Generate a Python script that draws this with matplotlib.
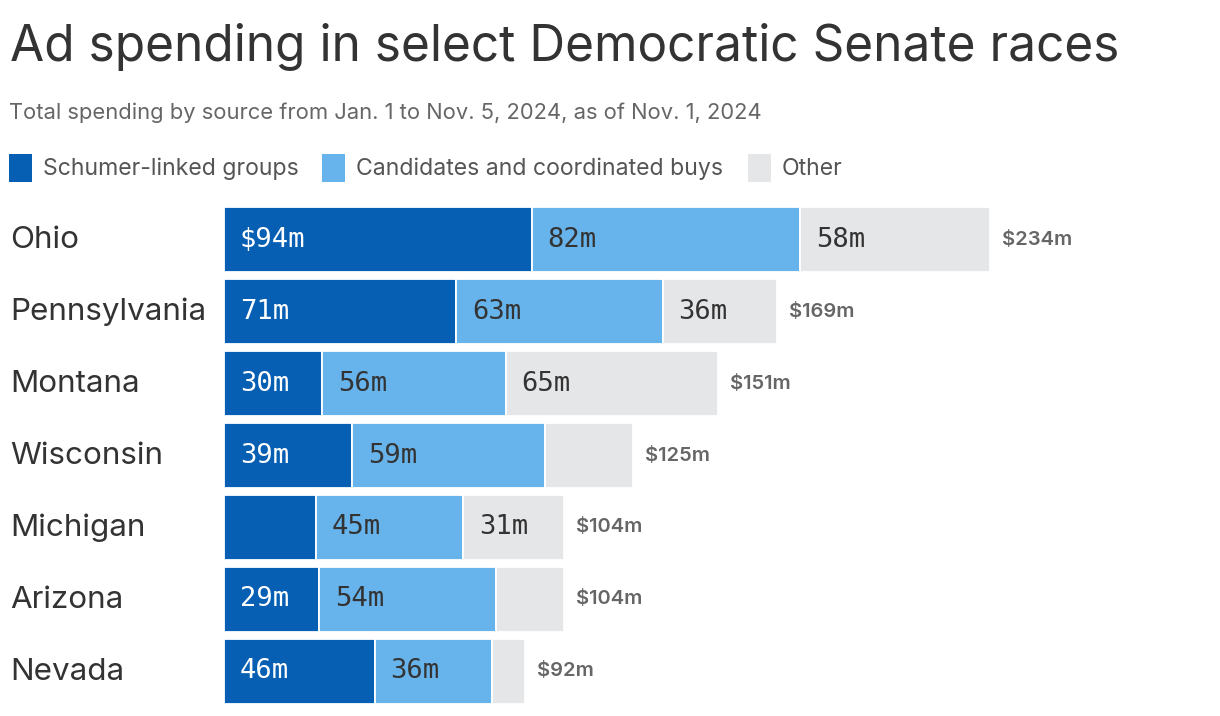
import numpy as np
import matplotlib
matplotlib.use("Agg")
from matplotlib import pyplot as plt
from matplotlib.patches import Rectangle

states = ["Ohio", "Pennsylvania", "Montana", "Wisconsin", "Michigan", "Arizona", "Nevada"]
schumer = [94, 71, 30, 39, 28, 29, 46]
candidates = [82, 63, 56, 59, 45, 54, 36]
other = [58, 35, 65, 27, 31, 21, 10]
other_labels = ["58m", "36m", "65m", "", "31m", "", ""]
schumer_labels = ["$94m", "71m", "30m", "39m", "", "29m", "46m"]
candidate_labels = ["82m", "63m", "56m", "59m", "45m", "54m", "36m"]
totals = ["$234m", "$169m", "$151m", "$125m", "$104m", "$104m", "$92m"]

series = ["Schumer-linked groups", "Candidates and coordinated buys", "Other"]
colors = ["#075fb3", "#67b3eb", "#e5e6e8"]
text_colors = ["white", "#333333", "#333333"]

W, H = 1220, 716
fig = plt.figure(figsize=(W / 100, H / 100), dpi=100)
ax = fig.add_axes([224 / W, (H - 707.5) / H, 982 / W, 504 / H])

y = np.arange(len(states))
vals = [np.array(schumer), np.array(candidates), np.array(other)]
labs = [schumer_labels, candidate_labels, other_labels]
left = np.zeros(len(states))
for v, c, tc, lab in zip(vals, colors, text_colors, labs):
    ax.barh(y, v, left=left, height=0.9, color=c, edgecolor="white", linewidth=1.3)
    for i in range(len(states)):
        if lab[i]:
            ax.annotate(lab[i], xy=(left[i], y[i]), xytext=(11.5, 0), textcoords="offset points",
                        ha="left", va="center", color=tc, fontsize=19.5, family="DejaVu Sans Mono")
    left = left + v

for i, t in enumerate(totals):
    ax.annotate(t, xy=(left[i], y[i]), xytext=(8.5, 0), textcoords="offset points",
                ha="left", va="center", color="#666666", fontsize=14.5, fontweight="semibold",
                family="Inter")
    ax.annotate(states[i], xy=(10, y[i]), xycoords=("figure pixels", "data"),
                ha="left", va="center", color="#333333", fontsize=22.6, family="Inter")

ax.set_xlim(0, 300)
ax.set_ylim(len(states) - 0.5, -0.5)
ax.axis("off")

fig.text(10 / W, 1 - 47 / H, "Ad spending in select Democratic Senate races", ha="left", va="center",
         fontsize=35.7, color="#333333", family="Inter")
fig.text(9 / W, 1 - 113 / H, "Total spending by source from Jan. 1 to Nov. 5, 2024, as of Nov. 1, 2024",
         ha="left", va="center", fontsize=15.8, color="#666666", family="Inter")

leg_x = [9, 322, 748]
for lx, name, c in zip(leg_x, series, colors):
    fig.patches.append(Rectangle((lx / W, 1 - 182 / H), 23 / W, 28 / H, transform=fig.transFigure,
                                 facecolor=c, edgecolor="none"))
    fig.text((lx + 34) / W, 1 - 169 / H, name, ha="left", va="center", fontsize=16.6,
             color="#555555", family="Inter")

fig.savefig("out.png", dpi=100)
